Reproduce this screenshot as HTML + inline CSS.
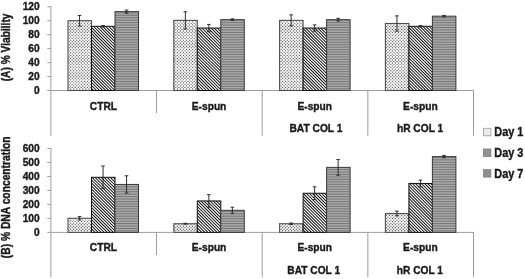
<!DOCTYPE html>
<html><head><meta charset="utf-8"><title>chart</title>
<style>html,body{margin:0;padding:0;background:#fff}svg{display:block}</style></head>
<body>
<svg width="525" height="279" viewBox="0 0 525 279">
<defs><pattern id="pd" width="61.0" height="61.0" patternUnits="userSpaceOnUse"><rect width="61.0" height="61.0" fill="#fdfdfd"/><path d="M0.50 0.50h0M2.02 2.02h0M0.50 3.55h0M2.02 5.07h0M0.50 6.60h0M2.02 8.12h0M0.50 9.65h0M2.02 11.17h0M0.50 12.70h0M2.02 14.22h0M0.50 15.75h0M2.02 17.27h0M0.50 18.80h0M2.02 20.32h0M0.50 21.85h0M2.02 23.37h0M0.50 24.90h0M2.02 26.42h0M0.50 27.95h0M2.02 29.47h0M0.50 31.00h0M2.02 32.52h0M0.50 34.05h0M2.02 35.57h0M0.50 37.10h0M2.02 38.62h0M0.50 40.15h0M2.02 41.67h0M0.50 43.20h0M2.02 44.72h0M0.50 46.25h0M2.02 47.77h0M0.50 49.30h0M2.02 50.82h0M0.50 52.35h0M2.02 53.87h0M0.50 55.40h0M2.02 56.92h0M0.50 58.45h0M2.02 59.97h0M0.50 61.50h0M2.02 63.02h0M3.55 0.50h0M5.07 2.02h0M3.55 3.55h0M5.07 5.07h0M3.55 6.60h0M5.07 8.12h0M3.55 9.65h0M5.07 11.17h0M3.55 12.70h0M5.07 14.22h0M3.55 15.75h0M5.07 17.27h0M3.55 18.80h0M5.07 20.32h0M3.55 21.85h0M5.07 23.37h0M3.55 24.90h0M5.07 26.42h0M3.55 27.95h0M5.07 29.47h0M3.55 31.00h0M5.07 32.52h0M3.55 34.05h0M5.07 35.57h0M3.55 37.10h0M5.07 38.62h0M3.55 40.15h0M5.07 41.67h0M3.55 43.20h0M5.07 44.72h0M3.55 46.25h0M5.07 47.77h0M3.55 49.30h0M5.07 50.82h0M3.55 52.35h0M5.07 53.87h0M3.55 55.40h0M5.07 56.92h0M3.55 58.45h0M5.07 59.97h0M3.55 61.50h0M5.07 63.02h0M6.60 0.50h0M8.12 2.02h0M6.60 3.55h0M8.12 5.07h0M6.60 6.60h0M8.12 8.12h0M6.60 9.65h0M8.12 11.17h0M6.60 12.70h0M8.12 14.22h0M6.60 15.75h0M8.12 17.27h0M6.60 18.80h0M8.12 20.32h0M6.60 21.85h0M8.12 23.37h0M6.60 24.90h0M8.12 26.42h0M6.60 27.95h0M8.12 29.47h0M6.60 31.00h0M8.12 32.52h0M6.60 34.05h0M8.12 35.57h0M6.60 37.10h0M8.12 38.62h0M6.60 40.15h0M8.12 41.67h0M6.60 43.20h0M8.12 44.72h0M6.60 46.25h0M8.12 47.77h0M6.60 49.30h0M8.12 50.82h0M6.60 52.35h0M8.12 53.87h0M6.60 55.40h0M8.12 56.92h0M6.60 58.45h0M8.12 59.97h0M6.60 61.50h0M8.12 63.02h0M9.65 0.50h0M11.17 2.02h0M9.65 3.55h0M11.17 5.07h0M9.65 6.60h0M11.17 8.12h0M9.65 9.65h0M11.17 11.17h0M9.65 12.70h0M11.17 14.22h0M9.65 15.75h0M11.17 17.27h0M9.65 18.80h0M11.17 20.32h0M9.65 21.85h0M11.17 23.37h0M9.65 24.90h0M11.17 26.42h0M9.65 27.95h0M11.17 29.47h0M9.65 31.00h0M11.17 32.52h0M9.65 34.05h0M11.17 35.57h0M9.65 37.10h0M11.17 38.62h0M9.65 40.15h0M11.17 41.67h0M9.65 43.20h0M11.17 44.72h0M9.65 46.25h0M11.17 47.77h0M9.65 49.30h0M11.17 50.82h0M9.65 52.35h0M11.17 53.87h0M9.65 55.40h0M11.17 56.92h0M9.65 58.45h0M11.17 59.97h0M9.65 61.50h0M11.17 63.02h0M12.70 0.50h0M14.22 2.02h0M12.70 3.55h0M14.22 5.07h0M12.70 6.60h0M14.22 8.12h0M12.70 9.65h0M14.22 11.17h0M12.70 12.70h0M14.22 14.22h0M12.70 15.75h0M14.22 17.27h0M12.70 18.80h0M14.22 20.32h0M12.70 21.85h0M14.22 23.37h0M12.70 24.90h0M14.22 26.42h0M12.70 27.95h0M14.22 29.47h0M12.70 31.00h0M14.22 32.52h0M12.70 34.05h0M14.22 35.57h0M12.70 37.10h0M14.22 38.62h0M12.70 40.15h0M14.22 41.67h0M12.70 43.20h0M14.22 44.72h0M12.70 46.25h0M14.22 47.77h0M12.70 49.30h0M14.22 50.82h0M12.70 52.35h0M14.22 53.87h0M12.70 55.40h0M14.22 56.92h0M12.70 58.45h0M14.22 59.97h0M12.70 61.50h0M14.22 63.02h0M15.75 0.50h0M17.27 2.02h0M15.75 3.55h0M17.27 5.07h0M15.75 6.60h0M17.27 8.12h0M15.75 9.65h0M17.27 11.17h0M15.75 12.70h0M17.27 14.22h0M15.75 15.75h0M17.27 17.27h0M15.75 18.80h0M17.27 20.32h0M15.75 21.85h0M17.27 23.37h0M15.75 24.90h0M17.27 26.42h0M15.75 27.95h0M17.27 29.47h0M15.75 31.00h0M17.27 32.52h0M15.75 34.05h0M17.27 35.57h0M15.75 37.10h0M17.27 38.62h0M15.75 40.15h0M17.27 41.67h0M15.75 43.20h0M17.27 44.72h0M15.75 46.25h0M17.27 47.77h0M15.75 49.30h0M17.27 50.82h0M15.75 52.35h0M17.27 53.87h0M15.75 55.40h0M17.27 56.92h0M15.75 58.45h0M17.27 59.97h0M15.75 61.50h0M17.27 63.02h0M18.80 0.50h0M20.32 2.02h0M18.80 3.55h0M20.32 5.07h0M18.80 6.60h0M20.32 8.12h0M18.80 9.65h0M20.32 11.17h0M18.80 12.70h0M20.32 14.22h0M18.80 15.75h0M20.32 17.27h0M18.80 18.80h0M20.32 20.32h0M18.80 21.85h0M20.32 23.37h0M18.80 24.90h0M20.32 26.42h0M18.80 27.95h0M20.32 29.47h0M18.80 31.00h0M20.32 32.52h0M18.80 34.05h0M20.32 35.57h0M18.80 37.10h0M20.32 38.62h0M18.80 40.15h0M20.32 41.67h0M18.80 43.20h0M20.32 44.72h0M18.80 46.25h0M20.32 47.77h0M18.80 49.30h0M20.32 50.82h0M18.80 52.35h0M20.32 53.87h0M18.80 55.40h0M20.32 56.92h0M18.80 58.45h0M20.32 59.97h0M18.80 61.50h0M20.32 63.02h0M21.85 0.50h0M23.37 2.02h0M21.85 3.55h0M23.37 5.07h0M21.85 6.60h0M23.37 8.12h0M21.85 9.65h0M23.37 11.17h0M21.85 12.70h0M23.37 14.22h0M21.85 15.75h0M23.37 17.27h0M21.85 18.80h0M23.37 20.32h0M21.85 21.85h0M23.37 23.37h0M21.85 24.90h0M23.37 26.42h0M21.85 27.95h0M23.37 29.47h0M21.85 31.00h0M23.37 32.52h0M21.85 34.05h0M23.37 35.57h0M21.85 37.10h0M23.37 38.62h0M21.85 40.15h0M23.37 41.67h0M21.85 43.20h0M23.37 44.72h0M21.85 46.25h0M23.37 47.77h0M21.85 49.30h0M23.37 50.82h0M21.85 52.35h0M23.37 53.87h0M21.85 55.40h0M23.37 56.92h0M21.85 58.45h0M23.37 59.97h0M21.85 61.50h0M23.37 63.02h0M24.90 0.50h0M26.42 2.02h0M24.90 3.55h0M26.42 5.07h0M24.90 6.60h0M26.42 8.12h0M24.90 9.65h0M26.42 11.17h0M24.90 12.70h0M26.42 14.22h0M24.90 15.75h0M26.42 17.27h0M24.90 18.80h0M26.42 20.32h0M24.90 21.85h0M26.42 23.37h0M24.90 24.90h0M26.42 26.42h0M24.90 27.95h0M26.42 29.47h0M24.90 31.00h0M26.42 32.52h0M24.90 34.05h0M26.42 35.57h0M24.90 37.10h0M26.42 38.62h0M24.90 40.15h0M26.42 41.67h0M24.90 43.20h0M26.42 44.72h0M24.90 46.25h0M26.42 47.77h0M24.90 49.30h0M26.42 50.82h0M24.90 52.35h0M26.42 53.87h0M24.90 55.40h0M26.42 56.92h0M24.90 58.45h0M26.42 59.97h0M24.90 61.50h0M26.42 63.02h0M27.95 0.50h0M29.47 2.02h0M27.95 3.55h0M29.47 5.07h0M27.95 6.60h0M29.47 8.12h0M27.95 9.65h0M29.47 11.17h0M27.95 12.70h0M29.47 14.22h0M27.95 15.75h0M29.47 17.27h0M27.95 18.80h0M29.47 20.32h0M27.95 21.85h0M29.47 23.37h0M27.95 24.90h0M29.47 26.42h0M27.95 27.95h0M29.47 29.47h0M27.95 31.00h0M29.47 32.52h0M27.95 34.05h0M29.47 35.57h0M27.95 37.10h0M29.47 38.62h0M27.95 40.15h0M29.47 41.67h0M27.95 43.20h0M29.47 44.72h0M27.95 46.25h0M29.47 47.77h0M27.95 49.30h0M29.47 50.82h0M27.95 52.35h0M29.47 53.87h0M27.95 55.40h0M29.47 56.92h0M27.95 58.45h0M29.47 59.97h0M27.95 61.50h0M29.47 63.02h0M31.00 0.50h0M32.52 2.02h0M31.00 3.55h0M32.52 5.07h0M31.00 6.60h0M32.52 8.12h0M31.00 9.65h0M32.52 11.17h0M31.00 12.70h0M32.52 14.22h0M31.00 15.75h0M32.52 17.27h0M31.00 18.80h0M32.52 20.32h0M31.00 21.85h0M32.52 23.37h0M31.00 24.90h0M32.52 26.42h0M31.00 27.95h0M32.52 29.47h0M31.00 31.00h0M32.52 32.52h0M31.00 34.05h0M32.52 35.57h0M31.00 37.10h0M32.52 38.62h0M31.00 40.15h0M32.52 41.67h0M31.00 43.20h0M32.52 44.72h0M31.00 46.25h0M32.52 47.77h0M31.00 49.30h0M32.52 50.82h0M31.00 52.35h0M32.52 53.87h0M31.00 55.40h0M32.52 56.92h0M31.00 58.45h0M32.52 59.97h0M31.00 61.50h0M32.52 63.02h0M34.05 0.50h0M35.57 2.02h0M34.05 3.55h0M35.57 5.07h0M34.05 6.60h0M35.57 8.12h0M34.05 9.65h0M35.57 11.17h0M34.05 12.70h0M35.57 14.22h0M34.05 15.75h0M35.57 17.27h0M34.05 18.80h0M35.57 20.32h0M34.05 21.85h0M35.57 23.37h0M34.05 24.90h0M35.57 26.42h0M34.05 27.95h0M35.57 29.47h0M34.05 31.00h0M35.57 32.52h0M34.05 34.05h0M35.57 35.57h0M34.05 37.10h0M35.57 38.62h0M34.05 40.15h0M35.57 41.67h0M34.05 43.20h0M35.57 44.72h0M34.05 46.25h0M35.57 47.77h0M34.05 49.30h0M35.57 50.82h0M34.05 52.35h0M35.57 53.87h0M34.05 55.40h0M35.57 56.92h0M34.05 58.45h0M35.57 59.97h0M34.05 61.50h0M35.57 63.02h0M37.10 0.50h0M38.62 2.02h0M37.10 3.55h0M38.62 5.07h0M37.10 6.60h0M38.62 8.12h0M37.10 9.65h0M38.62 11.17h0M37.10 12.70h0M38.62 14.22h0M37.10 15.75h0M38.62 17.27h0M37.10 18.80h0M38.62 20.32h0M37.10 21.85h0M38.62 23.37h0M37.10 24.90h0M38.62 26.42h0M37.10 27.95h0M38.62 29.47h0M37.10 31.00h0M38.62 32.52h0M37.10 34.05h0M38.62 35.57h0M37.10 37.10h0M38.62 38.62h0M37.10 40.15h0M38.62 41.67h0M37.10 43.20h0M38.62 44.72h0M37.10 46.25h0M38.62 47.77h0M37.10 49.30h0M38.62 50.82h0M37.10 52.35h0M38.62 53.87h0M37.10 55.40h0M38.62 56.92h0M37.10 58.45h0M38.62 59.97h0M37.10 61.50h0M38.62 63.02h0M40.15 0.50h0M41.67 2.02h0M40.15 3.55h0M41.67 5.07h0M40.15 6.60h0M41.67 8.12h0M40.15 9.65h0M41.67 11.17h0M40.15 12.70h0M41.67 14.22h0M40.15 15.75h0M41.67 17.27h0M40.15 18.80h0M41.67 20.32h0M40.15 21.85h0M41.67 23.37h0M40.15 24.90h0M41.67 26.42h0M40.15 27.95h0M41.67 29.47h0M40.15 31.00h0M41.67 32.52h0M40.15 34.05h0M41.67 35.57h0M40.15 37.10h0M41.67 38.62h0M40.15 40.15h0M41.67 41.67h0M40.15 43.20h0M41.67 44.72h0M40.15 46.25h0M41.67 47.77h0M40.15 49.30h0M41.67 50.82h0M40.15 52.35h0M41.67 53.87h0M40.15 55.40h0M41.67 56.92h0M40.15 58.45h0M41.67 59.97h0M40.15 61.50h0M41.67 63.02h0M43.20 0.50h0M44.72 2.02h0M43.20 3.55h0M44.72 5.07h0M43.20 6.60h0M44.72 8.12h0M43.20 9.65h0M44.72 11.17h0M43.20 12.70h0M44.72 14.22h0M43.20 15.75h0M44.72 17.27h0M43.20 18.80h0M44.72 20.32h0M43.20 21.85h0M44.72 23.37h0M43.20 24.90h0M44.72 26.42h0M43.20 27.95h0M44.72 29.47h0M43.20 31.00h0M44.72 32.52h0M43.20 34.05h0M44.72 35.57h0M43.20 37.10h0M44.72 38.62h0M43.20 40.15h0M44.72 41.67h0M43.20 43.20h0M44.72 44.72h0M43.20 46.25h0M44.72 47.77h0M43.20 49.30h0M44.72 50.82h0M43.20 52.35h0M44.72 53.87h0M43.20 55.40h0M44.72 56.92h0M43.20 58.45h0M44.72 59.97h0M43.20 61.50h0M44.72 63.02h0M46.25 0.50h0M47.77 2.02h0M46.25 3.55h0M47.77 5.07h0M46.25 6.60h0M47.77 8.12h0M46.25 9.65h0M47.77 11.17h0M46.25 12.70h0M47.77 14.22h0M46.25 15.75h0M47.77 17.27h0M46.25 18.80h0M47.77 20.32h0M46.25 21.85h0M47.77 23.37h0M46.25 24.90h0M47.77 26.42h0M46.25 27.95h0M47.77 29.47h0M46.25 31.00h0M47.77 32.52h0M46.25 34.05h0M47.77 35.57h0M46.25 37.10h0M47.77 38.62h0M46.25 40.15h0M47.77 41.67h0M46.25 43.20h0M47.77 44.72h0M46.25 46.25h0M47.77 47.77h0M46.25 49.30h0M47.77 50.82h0M46.25 52.35h0M47.77 53.87h0M46.25 55.40h0M47.77 56.92h0M46.25 58.45h0M47.77 59.97h0M46.25 61.50h0M47.77 63.02h0M49.30 0.50h0M50.82 2.02h0M49.30 3.55h0M50.82 5.07h0M49.30 6.60h0M50.82 8.12h0M49.30 9.65h0M50.82 11.17h0M49.30 12.70h0M50.82 14.22h0M49.30 15.75h0M50.82 17.27h0M49.30 18.80h0M50.82 20.32h0M49.30 21.85h0M50.82 23.37h0M49.30 24.90h0M50.82 26.42h0M49.30 27.95h0M50.82 29.47h0M49.30 31.00h0M50.82 32.52h0M49.30 34.05h0M50.82 35.57h0M49.30 37.10h0M50.82 38.62h0M49.30 40.15h0M50.82 41.67h0M49.30 43.20h0M50.82 44.72h0M49.30 46.25h0M50.82 47.77h0M49.30 49.30h0M50.82 50.82h0M49.30 52.35h0M50.82 53.87h0M49.30 55.40h0M50.82 56.92h0M49.30 58.45h0M50.82 59.97h0M49.30 61.50h0M50.82 63.02h0M52.35 0.50h0M53.87 2.02h0M52.35 3.55h0M53.87 5.07h0M52.35 6.60h0M53.87 8.12h0M52.35 9.65h0M53.87 11.17h0M52.35 12.70h0M53.87 14.22h0M52.35 15.75h0M53.87 17.27h0M52.35 18.80h0M53.87 20.32h0M52.35 21.85h0M53.87 23.37h0M52.35 24.90h0M53.87 26.42h0M52.35 27.95h0M53.87 29.47h0M52.35 31.00h0M53.87 32.52h0M52.35 34.05h0M53.87 35.57h0M52.35 37.10h0M53.87 38.62h0M52.35 40.15h0M53.87 41.67h0M52.35 43.20h0M53.87 44.72h0M52.35 46.25h0M53.87 47.77h0M52.35 49.30h0M53.87 50.82h0M52.35 52.35h0M53.87 53.87h0M52.35 55.40h0M53.87 56.92h0M52.35 58.45h0M53.87 59.97h0M52.35 61.50h0M53.87 63.02h0M55.40 0.50h0M56.92 2.02h0M55.40 3.55h0M56.92 5.07h0M55.40 6.60h0M56.92 8.12h0M55.40 9.65h0M56.92 11.17h0M55.40 12.70h0M56.92 14.22h0M55.40 15.75h0M56.92 17.27h0M55.40 18.80h0M56.92 20.32h0M55.40 21.85h0M56.92 23.37h0M55.40 24.90h0M56.92 26.42h0M55.40 27.95h0M56.92 29.47h0M55.40 31.00h0M56.92 32.52h0M55.40 34.05h0M56.92 35.57h0M55.40 37.10h0M56.92 38.62h0M55.40 40.15h0M56.92 41.67h0M55.40 43.20h0M56.92 44.72h0M55.40 46.25h0M56.92 47.77h0M55.40 49.30h0M56.92 50.82h0M55.40 52.35h0M56.92 53.87h0M55.40 55.40h0M56.92 56.92h0M55.40 58.45h0M56.92 59.97h0M55.40 61.50h0M56.92 63.02h0M58.45 0.50h0M59.97 2.02h0M58.45 3.55h0M59.97 5.07h0M58.45 6.60h0M59.97 8.12h0M58.45 9.65h0M59.97 11.17h0M58.45 12.70h0M59.97 14.22h0M58.45 15.75h0M59.97 17.27h0M58.45 18.80h0M59.97 20.32h0M58.45 21.85h0M59.97 23.37h0M58.45 24.90h0M59.97 26.42h0M58.45 27.95h0M59.97 29.47h0M58.45 31.00h0M59.97 32.52h0M58.45 34.05h0M59.97 35.57h0M58.45 37.10h0M59.97 38.62h0M58.45 40.15h0M59.97 41.67h0M58.45 43.20h0M59.97 44.72h0M58.45 46.25h0M59.97 47.77h0M58.45 49.30h0M59.97 50.82h0M58.45 52.35h0M59.97 53.87h0M58.45 55.40h0M59.97 56.92h0M58.45 58.45h0M59.97 59.97h0M58.45 61.50h0M59.97 63.02h0M61.50 0.50h0M63.02 2.02h0M61.50 3.55h0M63.02 5.07h0M61.50 6.60h0M63.02 8.12h0M61.50 9.65h0M63.02 11.17h0M61.50 12.70h0M63.02 14.22h0M61.50 15.75h0M63.02 17.27h0M61.50 18.80h0M63.02 20.32h0M61.50 21.85h0M63.02 23.37h0M61.50 24.90h0M63.02 26.42h0M61.50 27.95h0M63.02 29.47h0M61.50 31.00h0M63.02 32.52h0M61.50 34.05h0M63.02 35.57h0M61.50 37.10h0M63.02 38.62h0M61.50 40.15h0M63.02 41.67h0M61.50 43.20h0M63.02 44.72h0M61.50 46.25h0M63.02 47.77h0M61.50 49.30h0M63.02 50.82h0M61.50 52.35h0M63.02 53.87h0M61.50 55.40h0M63.02 56.92h0M61.50 58.45h0M63.02 59.97h0M61.50 61.50h0M63.02 63.02h0" stroke="#5e5e5e" stroke-width="1.35" stroke-linecap="round" fill="none"/></pattern><pattern id="pg" width="61.0" height="61.0" patternUnits="userSpaceOnUse"><rect width="61.0" height="61.0" fill="#fff"/><path d="M-61.00 0l61.0 61.0M-57.95 0l61.0 61.0M-54.90 0l61.0 61.0M-51.85 0l61.0 61.0M-48.80 0l61.0 61.0M-45.75 0l61.0 61.0M-42.70 0l61.0 61.0M-39.65 0l61.0 61.0M-36.60 0l61.0 61.0M-33.55 0l61.0 61.0M-30.50 0l61.0 61.0M-27.45 0l61.0 61.0M-24.40 0l61.0 61.0M-21.35 0l61.0 61.0M-18.30 0l61.0 61.0M-15.25 0l61.0 61.0M-12.20 0l61.0 61.0M-9.15 0l61.0 61.0M-6.10 0l61.0 61.0M-3.05 0l61.0 61.0M0.00 0l61.0 61.0M3.05 0l61.0 61.0M6.10 0l61.0 61.0M9.15 0l61.0 61.0M12.20 0l61.0 61.0M15.25 0l61.0 61.0M18.30 0l61.0 61.0M21.35 0l61.0 61.0M24.40 0l61.0 61.0M27.45 0l61.0 61.0M30.50 0l61.0 61.0M33.55 0l61.0 61.0M36.60 0l61.0 61.0M39.65 0l61.0 61.0M42.70 0l61.0 61.0M45.75 0l61.0 61.0M48.80 0l61.0 61.0M51.85 0l61.0 61.0M54.90 0l61.0 61.0M57.95 0l61.0 61.0M61.00 0l61.0 61.0" stroke="#0c0c0c" stroke-width="1.02" fill="none"/></pattern><pattern id="ph" width="10" height="49.0" patternUnits="userSpaceOnUse"><rect width="10" height="49.0" fill="#aaaaaa"/><path d="M0 0.60h10M0 3.05h10M0 5.50h10M0 7.95h10M0 10.40h10M0 12.85h10M0 15.30h10M0 17.75h10M0 20.20h10M0 22.65h10M0 25.10h10M0 27.55h10M0 30.00h10M0 32.45h10M0 34.90h10M0 37.35h10M0 39.80h10M0 42.25h10M0 44.70h10M0 47.15h10" stroke="#767676" stroke-width="1" fill="none"/></pattern></defs>
<rect width="525" height="279" fill="#fff"/>
<g stroke="#9e9e9e" stroke-width="1" fill="none">
<line x1="50.9" y1="6.25" x2="50.9" y2="135.8" stroke="#9c9c9c"/>
<line x1="47.3" y1="90.5" x2="474.00" y2="90.5"/>
<line x1="47.3" y1="76.54" x2="50.9" y2="76.54"/>
<line x1="47.3" y1="62.58" x2="50.9" y2="62.58"/>
<line x1="47.3" y1="48.62" x2="50.9" y2="48.62"/>
<line x1="47.3" y1="34.67" x2="50.9" y2="34.67"/>
<line x1="47.3" y1="20.71" x2="50.9" y2="20.71"/>
<line x1="47.3" y1="6.75" x2="50.9" y2="6.75"/>
<line x1="156.55" y1="90.5" x2="156.55" y2="113.10" stroke="#9c9c9c"/>
<line x1="262.20" y1="90.5" x2="262.20" y2="135.80" stroke="#9c9c9c"/>
<line x1="367.85" y1="90.5" x2="367.85" y2="135.80" stroke="#9c9c9c"/>
<line x1="473.50" y1="90.5" x2="473.50" y2="135.80" stroke="#9c9c9c"/>
</g>
<text transform="translate(39.7,94.05) scale(0.865,1)" text-anchor="end" font-size="11.8" font-family="Liberation Sans, Arial, sans-serif" font-weight="bold" fill="#1a1a1a" stroke="#1a1a1a" stroke-width="0.4">0</text>
<text transform="translate(39.7,80.09) scale(0.865,1)" text-anchor="end" font-size="11.8" font-family="Liberation Sans, Arial, sans-serif" font-weight="bold" fill="#1a1a1a" stroke="#1a1a1a" stroke-width="0.4">20</text>
<text transform="translate(39.7,66.13) scale(0.865,1)" text-anchor="end" font-size="11.8" font-family="Liberation Sans, Arial, sans-serif" font-weight="bold" fill="#1a1a1a" stroke="#1a1a1a" stroke-width="0.4">40</text>
<text transform="translate(39.7,52.17) scale(0.865,1)" text-anchor="end" font-size="11.8" font-family="Liberation Sans, Arial, sans-serif" font-weight="bold" fill="#1a1a1a" stroke="#1a1a1a" stroke-width="0.4">60</text>
<text transform="translate(39.7,38.22) scale(0.865,1)" text-anchor="end" font-size="11.8" font-family="Liberation Sans, Arial, sans-serif" font-weight="bold" fill="#1a1a1a" stroke="#1a1a1a" stroke-width="0.4">80</text>
<text transform="translate(39.7,24.26) scale(0.865,1)" text-anchor="end" font-size="11.8" font-family="Liberation Sans, Arial, sans-serif" font-weight="bold" fill="#1a1a1a" stroke="#1a1a1a" stroke-width="0.4">100</text>
<text transform="translate(39.7,10.3) scale(0.865,1)" text-anchor="end" font-size="11.8" font-family="Liberation Sans, Arial, sans-serif" font-weight="bold" fill="#1a1a1a" stroke="#1a1a1a" stroke-width="0.4">120</text>
<rect x="68.00" y="20.71" width="23.50" height="69.79" fill="url(#pd)" stroke="#505050" stroke-width="1.1"/>
<rect x="91.50" y="26.29" width="23.50" height="64.21" fill="url(#pg)" stroke="#111" stroke-width="1"/>
<rect x="115.00" y="11.64" width="23.50" height="78.86" fill="url(#ph)" stroke="#3a3a3a" stroke-width="1"/>
<path d="M79.55 15.47V25.94M77.75 15.47H81.35M77.75 25.94H81.35" stroke="#262626" stroke-width="0.95" fill="none"/>
<path d="M103.05 25.59V26.99M101.25 25.59H104.85M101.25 26.99H104.85" stroke="#262626" stroke-width="0.95" fill="none"/>
<path d="M126.55 10.10V13.17M124.75 10.10H128.35M124.75 13.17H128.35" stroke="#262626" stroke-width="0.95" fill="none"/>
<rect x="173.80" y="20.36" width="23.50" height="70.14" fill="url(#pd)" stroke="#505050" stroke-width="1.1"/>
<rect x="197.30" y="28.04" width="23.50" height="62.46" fill="url(#pg)" stroke="#111" stroke-width="1"/>
<rect x="220.80" y="19.66" width="23.50" height="70.84" fill="url(#ph)" stroke="#3a3a3a" stroke-width="1"/>
<path d="M185.35 11.78V28.94M183.55 11.78H187.15M183.55 28.94H187.15" stroke="#262626" stroke-width="0.95" fill="none"/>
<path d="M208.85 24.41V31.67M207.05 24.41H210.65M207.05 31.67H210.65" stroke="#262626" stroke-width="0.95" fill="none"/>
<path d="M232.35 18.89V20.43M230.55 18.89H234.15M230.55 20.43H234.15" stroke="#262626" stroke-width="0.95" fill="none"/>
<rect x="279.60" y="20.36" width="23.50" height="70.14" fill="url(#pd)" stroke="#505050" stroke-width="1.1"/>
<rect x="303.10" y="28.04" width="23.50" height="62.46" fill="url(#pg)" stroke="#111" stroke-width="1"/>
<rect x="326.60" y="19.66" width="23.50" height="70.84" fill="url(#ph)" stroke="#3a3a3a" stroke-width="1"/>
<path d="M291.15 14.85V25.87M289.35 14.85H292.95M289.35 25.87H292.95" stroke="#262626" stroke-width="0.95" fill="none"/>
<path d="M314.65 24.90V31.18M312.85 24.90H316.45M312.85 31.18H316.45" stroke="#262626" stroke-width="0.95" fill="none"/>
<path d="M338.15 18.27V21.06M336.35 18.27H339.95M336.35 21.06H339.95" stroke="#262626" stroke-width="0.95" fill="none"/>
<rect x="385.40" y="23.50" width="23.50" height="67.00" fill="url(#pd)" stroke="#505050" stroke-width="1.1"/>
<rect x="408.90" y="26.29" width="23.50" height="64.21" fill="url(#pg)" stroke="#111" stroke-width="1"/>
<rect x="432.40" y="16.17" width="23.50" height="74.33" fill="url(#ph)" stroke="#3a3a3a" stroke-width="1"/>
<path d="M396.95 15.89V31.11M395.15 15.89H398.75M395.15 31.11H398.75" stroke="#262626" stroke-width="0.95" fill="none"/>
<path d="M420.45 25.59V26.99M418.65 25.59H422.25M418.65 26.99H422.25" stroke="#262626" stroke-width="0.95" fill="none"/>
<path d="M443.95 15.47V16.87M442.15 15.47H445.75M442.15 16.87H445.75" stroke="#262626" stroke-width="0.95" fill="none"/>
<text transform="translate(103.42,109.6) scale(0.872,1)" text-anchor="middle" font-size="11.7" font-family="Liberation Sans, Arial, sans-serif" font-weight="bold" fill="#1a1a1a" stroke="#1a1a1a" stroke-width="0.4">CTRL</text>
<text transform="translate(209.07,109.6) scale(0.872,1)" text-anchor="middle" font-size="11.7" font-family="Liberation Sans, Arial, sans-serif" font-weight="bold" fill="#1a1a1a" stroke="#1a1a1a" stroke-width="0.4">E-spun</text>
<text transform="translate(314.72,109.6) scale(0.872,1)" text-anchor="middle" font-size="11.7" font-family="Liberation Sans, Arial, sans-serif" font-weight="bold" fill="#1a1a1a" stroke="#1a1a1a" stroke-width="0.4">E-spun</text>
<text transform="translate(315.92,132.29999999999998) scale(0.872,1)" text-anchor="middle" font-size="11.7" font-family="Liberation Sans, Arial, sans-serif" font-weight="bold" fill="#1a1a1a" stroke="#1a1a1a" stroke-width="0.4">BAT COL 1</text>
<text transform="translate(420.38,109.6) scale(0.872,1)" text-anchor="middle" font-size="11.7" font-family="Liberation Sans, Arial, sans-serif" font-weight="bold" fill="#1a1a1a" stroke="#1a1a1a" stroke-width="0.4">E-spun</text>
<text transform="translate(420.07,132.29999999999998) scale(0.872,1)" text-anchor="middle" font-size="11.7" font-family="Liberation Sans, Arial, sans-serif" font-weight="bold" fill="#1a1a1a" stroke="#1a1a1a" stroke-width="0.4">hR COL 1</text>
<text transform="translate(10.4,47.4) rotate(-90) scale(0.83,1)" text-anchor="middle" font-size="12.3" font-family="Liberation Sans, Arial, sans-serif" font-weight="bold" fill="#1a1a1a" stroke="#1a1a1a" stroke-width="0.4">(A) % Viability</text>
<g stroke="#9e9e9e" stroke-width="1" fill="none">
<line x1="50.9" y1="148.0" x2="50.9" y2="277.2" stroke="#9c9c9c"/>
<line x1="47.3" y1="232.4" x2="474.00" y2="232.4"/>
<line x1="47.3" y1="218.42" x2="50.9" y2="218.42"/>
<line x1="47.3" y1="204.43" x2="50.9" y2="204.43"/>
<line x1="47.3" y1="190.45" x2="50.9" y2="190.45"/>
<line x1="47.3" y1="176.47" x2="50.9" y2="176.47"/>
<line x1="47.3" y1="162.48" x2="50.9" y2="162.48"/>
<line x1="47.3" y1="148.50" x2="50.9" y2="148.50"/>
<line x1="156.55" y1="232.4" x2="156.55" y2="255.00" stroke="#9c9c9c"/>
<line x1="262.20" y1="232.4" x2="262.20" y2="277.20" stroke="#9c9c9c"/>
<line x1="367.85" y1="232.4" x2="367.85" y2="277.20" stroke="#9c9c9c"/>
<line x1="473.50" y1="232.4" x2="473.50" y2="277.20" stroke="#9c9c9c"/>
</g>
<text transform="translate(39.7,235.95) scale(0.865,1)" text-anchor="end" font-size="11.8" font-family="Liberation Sans, Arial, sans-serif" font-weight="bold" fill="#1a1a1a" stroke="#1a1a1a" stroke-width="0.4">0</text>
<text transform="translate(39.7,221.97) scale(0.865,1)" text-anchor="end" font-size="11.8" font-family="Liberation Sans, Arial, sans-serif" font-weight="bold" fill="#1a1a1a" stroke="#1a1a1a" stroke-width="0.4">100</text>
<text transform="translate(39.7,207.98) scale(0.865,1)" text-anchor="end" font-size="11.8" font-family="Liberation Sans, Arial, sans-serif" font-weight="bold" fill="#1a1a1a" stroke="#1a1a1a" stroke-width="0.4">200</text>
<text transform="translate(39.7,194.0) scale(0.865,1)" text-anchor="end" font-size="11.8" font-family="Liberation Sans, Arial, sans-serif" font-weight="bold" fill="#1a1a1a" stroke="#1a1a1a" stroke-width="0.4">300</text>
<text transform="translate(39.7,180.02) scale(0.865,1)" text-anchor="end" font-size="11.8" font-family="Liberation Sans, Arial, sans-serif" font-weight="bold" fill="#1a1a1a" stroke="#1a1a1a" stroke-width="0.4">400</text>
<text transform="translate(39.7,166.03) scale(0.865,1)" text-anchor="end" font-size="11.8" font-family="Liberation Sans, Arial, sans-serif" font-weight="bold" fill="#1a1a1a" stroke="#1a1a1a" stroke-width="0.4">500</text>
<text transform="translate(39.7,152.05) scale(0.865,1)" text-anchor="end" font-size="11.8" font-family="Liberation Sans, Arial, sans-serif" font-weight="bold" fill="#1a1a1a" stroke="#1a1a1a" stroke-width="0.4">600</text>
<rect x="68.00" y="218.28" width="23.50" height="14.12" fill="url(#pd)" stroke="#505050" stroke-width="1.1"/>
<rect x="91.50" y="177.31" width="23.50" height="55.09" fill="url(#pg)" stroke="#111" stroke-width="1"/>
<rect x="115.00" y="184.44" width="23.50" height="47.96" fill="url(#ph)" stroke="#3a3a3a" stroke-width="1"/>
<path d="M79.55 216.60V219.95M77.75 216.60H81.35M77.75 219.95H81.35" stroke="#262626" stroke-width="0.95" fill="none"/>
<path d="M103.05 165.98V188.63M101.25 165.98H104.85M101.25 188.63H104.85" stroke="#262626" stroke-width="0.95" fill="none"/>
<path d="M126.55 175.77V193.11M124.75 175.77H128.35M124.75 193.11H128.35" stroke="#262626" stroke-width="0.95" fill="none"/>
<rect x="173.80" y="223.73" width="23.50" height="8.67" fill="url(#pd)" stroke="#505050" stroke-width="1.1"/>
<rect x="197.30" y="200.94" width="23.50" height="31.46" fill="url(#pg)" stroke="#111" stroke-width="1"/>
<rect x="220.80" y="210.31" width="23.50" height="22.09" fill="url(#ph)" stroke="#3a3a3a" stroke-width="1"/>
<path d="M185.35 223.31V224.15M183.55 223.31H187.15M183.55 224.15H187.15" stroke="#262626" stroke-width="0.95" fill="none"/>
<path d="M208.85 194.65V207.23M207.05 194.65H210.65M207.05 207.23H210.65" stroke="#262626" stroke-width="0.95" fill="none"/>
<path d="M232.35 207.23V213.38M230.55 207.23H234.15M230.55 213.38H234.15" stroke="#262626" stroke-width="0.95" fill="none"/>
<rect x="279.60" y="223.73" width="23.50" height="8.67" fill="url(#pd)" stroke="#505050" stroke-width="1.1"/>
<rect x="303.10" y="193.25" width="23.50" height="39.15" fill="url(#pg)" stroke="#111" stroke-width="1"/>
<rect x="326.60" y="167.38" width="23.50" height="65.02" fill="url(#ph)" stroke="#3a3a3a" stroke-width="1"/>
<path d="M291.15 223.03V224.43M289.35 223.03H292.95M289.35 224.43H292.95" stroke="#262626" stroke-width="0.95" fill="none"/>
<path d="M314.65 186.81V199.68M312.85 186.81H316.45M312.85 199.68H316.45" stroke="#262626" stroke-width="0.95" fill="none"/>
<path d="M338.15 159.55V175.21M336.35 159.55H339.95M336.35 175.21H339.95" stroke="#262626" stroke-width="0.95" fill="none"/>
<rect x="385.40" y="213.52" width="23.50" height="18.88" fill="url(#pd)" stroke="#505050" stroke-width="1.1"/>
<rect x="408.90" y="183.46" width="23.50" height="48.94" fill="url(#pg)" stroke="#111" stroke-width="1"/>
<rect x="432.40" y="156.61" width="23.50" height="75.79" fill="url(#ph)" stroke="#3a3a3a" stroke-width="1"/>
<path d="M396.95 211.15V215.90M395.15 211.15H398.75M395.15 215.90H398.75" stroke="#262626" stroke-width="0.95" fill="none"/>
<path d="M420.45 180.10V186.81M418.65 180.10H422.25M418.65 186.81H422.25" stroke="#262626" stroke-width="0.95" fill="none"/>
<path d="M443.95 155.49V157.73M442.15 155.49H445.75M442.15 157.73H445.75" stroke="#262626" stroke-width="0.95" fill="none"/>
<text transform="translate(103.42,251.2) scale(0.872,1)" text-anchor="middle" font-size="11.7" font-family="Liberation Sans, Arial, sans-serif" font-weight="bold" fill="#1a1a1a" stroke="#1a1a1a" stroke-width="0.4">CTRL</text>
<text transform="translate(209.07,251.2) scale(0.872,1)" text-anchor="middle" font-size="11.7" font-family="Liberation Sans, Arial, sans-serif" font-weight="bold" fill="#1a1a1a" stroke="#1a1a1a" stroke-width="0.4">E-spun</text>
<text transform="translate(314.72,251.2) scale(0.872,1)" text-anchor="middle" font-size="11.7" font-family="Liberation Sans, Arial, sans-serif" font-weight="bold" fill="#1a1a1a" stroke="#1a1a1a" stroke-width="0.4">E-spun</text>
<text transform="translate(313.72,273.9) scale(0.872,1)" text-anchor="middle" font-size="11.7" font-family="Liberation Sans, Arial, sans-serif" font-weight="bold" fill="#1a1a1a" stroke="#1a1a1a" stroke-width="0.4">BAT COL 1</text>
<text transform="translate(420.38,251.2) scale(0.872,1)" text-anchor="middle" font-size="11.7" font-family="Liberation Sans, Arial, sans-serif" font-weight="bold" fill="#1a1a1a" stroke="#1a1a1a" stroke-width="0.4">E-spun</text>
<text transform="translate(419.88,273.9) scale(0.872,1)" text-anchor="middle" font-size="11.7" font-family="Liberation Sans, Arial, sans-serif" font-weight="bold" fill="#1a1a1a" stroke="#1a1a1a" stroke-width="0.4">hR COL 1</text>
<text transform="translate(10.2,197.3) rotate(-90) scale(0.835,1)" text-anchor="middle" font-size="12.3" font-family="Liberation Sans, Arial, sans-serif" font-weight="bold" fill="#1a1a1a" stroke="#1a1a1a" stroke-width="0.4">(B) % DNA concentration</text>
<rect x="483.4" y="128.30" width="7.5" height="7.5" fill="#ececec" stroke="#9a9a9a" stroke-width="0.8"/>
<text transform="translate(494.3,136.1) scale(0.874,1)" text-anchor="start" font-size="12.5" font-family="Liberation Sans, Arial, sans-serif" font-weight="bold" fill="#1a1a1a" stroke="#1a1a1a" stroke-width="0.4">Day 1</text>
<rect x="483.4" y="149.00" width="7.5" height="7.5" fill="#929292" stroke="#7c7c7c" stroke-width="0.8"/>
<text transform="translate(494.3,156.8) scale(0.874,1)" text-anchor="start" font-size="12.5" font-family="Liberation Sans, Arial, sans-serif" font-weight="bold" fill="#1a1a1a" stroke="#1a1a1a" stroke-width="0.4">Day 3</text>
<rect x="483.4" y="169.60" width="7.5" height="7.5" fill="#8e8e8e" stroke="#868686" stroke-width="0.8"/>
<text transform="translate(494.3,177.7) scale(0.874,1)" text-anchor="start" font-size="12.5" font-family="Liberation Sans, Arial, sans-serif" font-weight="bold" fill="#1a1a1a" stroke="#1a1a1a" stroke-width="0.4">Day 7</text>
</svg>
</body></html>
